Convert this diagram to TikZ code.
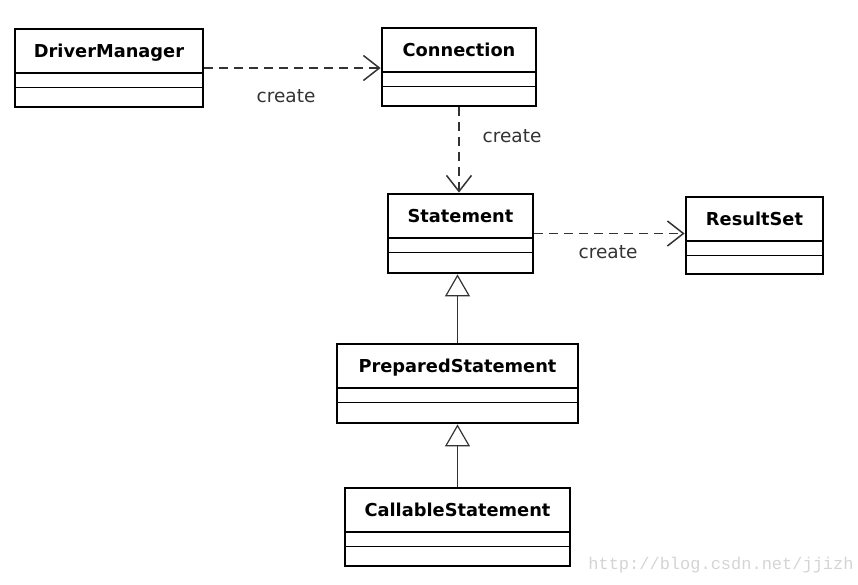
\documentclass[tikz,border=0pt]{standalone}
\usepackage{fontspec}
\setmainfont{DejaVu Sans}
\newfontfamily\wmfont{Liberation Mono}
\usetikzlibrary{arrows.meta}
\definecolor{lbl}{HTML}{333333}
\definecolor{wm}{HTML}{D4D4D4}
\tikzset{
  cls/.style={draw=black, line width=2.8pt, fill=white, inner sep=0pt,
    path picture={
      \draw[line width=1.3pt] ([yshift=-44pt]path picture bounding box.north west) -- ([yshift=-44pt]path picture bounding box.north east);
      \draw[line width=1.3pt] ([yshift=-58.5pt]path picture bounding box.north west) -- ([yshift=-58.5pt]path picture bounding box.north east);
    }},
  ttl/.style={font=\fontsize{17.8pt}{20pt}\selectfont\bfseries, anchor=base, inner sep=0pt},
  lbltext/.style={font=\fontsize{18.5pt}{20pt}\selectfont, text=lbl, anchor=base, inner sep=0pt},
  dep/.style={draw=lbl, line width=1.5pt, dash pattern=on 9pt off 6pt,
    -{Straight Barb[length=16pt, width=25pt, line width=1.5pt]}},
  gen/.style={draw=black!80, line width=1.2pt,
    -{Triangle[open, length=22pt, width=25pt, line width=1.2pt, fill=white]}}
}
\begin{document}
\begin{tikzpicture}[x=1pt, y=-1pt]
\useasboundingbox (0,0) rectangle (858,584);
% classes
\node[cls, minimum width=188pt, minimum height=78pt] (dm) at (109,68) {};
\node[ttl] (dmt) at ([yshift=-30pt]dm.north) {DriverManager};
\node[cls, minimum width=154pt, minimum height=78pt] (con) at (459,67) {};
\node[ttl] (cont) at ([yshift=-30pt]con.north) {Connection};
\node[cls, minimum width=145pt, minimum height=79pt] (st) at (460.5,233.5) {};
\node[ttl] (stt) at ([yshift=-30pt]st.north) {Statement};
\node[cls, minimum width=137pt, minimum height=77pt] (rs) at (754.5,235.5) {};
\node[ttl] (rst) at ([yshift=-30pt]rs.north) {ResultSet};
\node[cls, minimum width=241pt, minimum height=79pt] (ps) at (457.5,383.5) {};
\node[ttl] (pst) at ([yshift=-30pt]ps.north) {PreparedStatement};
\node[cls, minimum width=225pt, minimum height=78pt] (cs) at (457.5,527) {};
\node[ttl] (cst) at ([yshift=-30pt]cs.north) {CallableStatement};
% dependencies
\draw[dep] (dm.east) -- (dm.east -| con.west);
\draw[dep] (con.south) -- (con.south |- st.north);
\draw[dep] (st.east) -- (st.east -| rs.west);
\node[lbltext] (l1) at (286,102) {create};
\node[lbltext] (l2) at (512,142) {create};
\node[lbltext] (l3) at (608,258) {create};
% generalizations
\draw[gen] (ps.north) -- (ps.north |- st.south);
\draw[gen] (cs.north) -- (cs.north |- ps.south);
% watermark
\node[font=\wmfont\fontsize{17pt}{19pt}\selectfont, text=wm, inner sep=0pt] (wmk) at (721,565) {http://blog.csdn.net/jjizh};
\end{tikzpicture}
\end{document}
